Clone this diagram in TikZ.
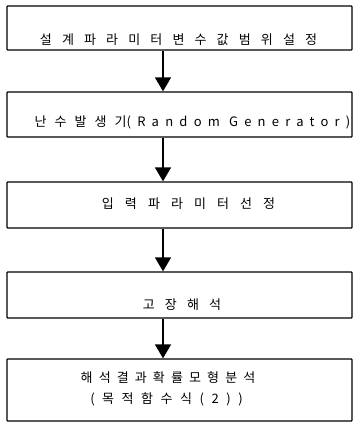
\documentclass[tikz,border=0pt]{standalone}
\usepackage{fontspec}
\setmainfont{Noto Sans CJK KR}
\usetikzlibrary{arrows.meta}
\tikzset{
  box/.style={draw, line width=1.3pt, minimum width=345pt, inner sep=0pt, rounded corners=0.8pt},
  lbl/.style={inner sep=0pt},
  arr/.style={line width=1.5pt, -{Triangle[width=16pt,length=14pt]}}
}
\newcommand{\lsp}[1]{\fontsize{13pt}{15pt}\selectfont\addfontfeature{LetterSpace=#1}}
\begin{document}
\begin{tikzpicture}[x=1pt,y=-1pt]
\useasboundingbox (0,0) rectangle (353,423);
\node[box, minimum height=44pt] (b1) at (179.5,28) {};
\node[box, minimum height=45pt] (b2) at (179.5,114.5) {};
\node[box, minimum height=46pt] (b3) at (179.5,205) {};
\node[box, minimum height=46pt] (b4) at (179.5,295) {};
\node[box, minimum height=62pt] (b5) at (179.5,390) {};
\node[lbl, font=\lsp{78}] (t1) at (178.5,40) {설계파라미터변수값범위설정};
\node[lbl] (t2) at (192.5,122) {{\lsp{62}난수발생기}{\lsp{48}(Random Generator)}};
\node[lbl, font=\lsp{85}] (t3) at (188.5,204) {입력파라미터선정};
\node[lbl, font=\lsp{78}] (t4) at (182,305) {고장해석};
\node[lbl, font=\lsp{47}] (t5) at (168,378) {해석결과확률모형분석};
\node[lbl, font=\lsp{58}] (t6) at (166.5,399) {(목적함수식(2))};
\coordinate (ax) at (163,0);
\draw[arr] (b1.south -| ax) -- (b2.north -| ax);
\draw[arr] (b2.south -| ax) -- (b3.north -| ax);
\draw[arr] (b3.south -| ax) -- (b4.north -| ax);
\draw[arr] (b4.south -| ax) -- (b5.north -| ax);
\end{tikzpicture}
\end{document}
